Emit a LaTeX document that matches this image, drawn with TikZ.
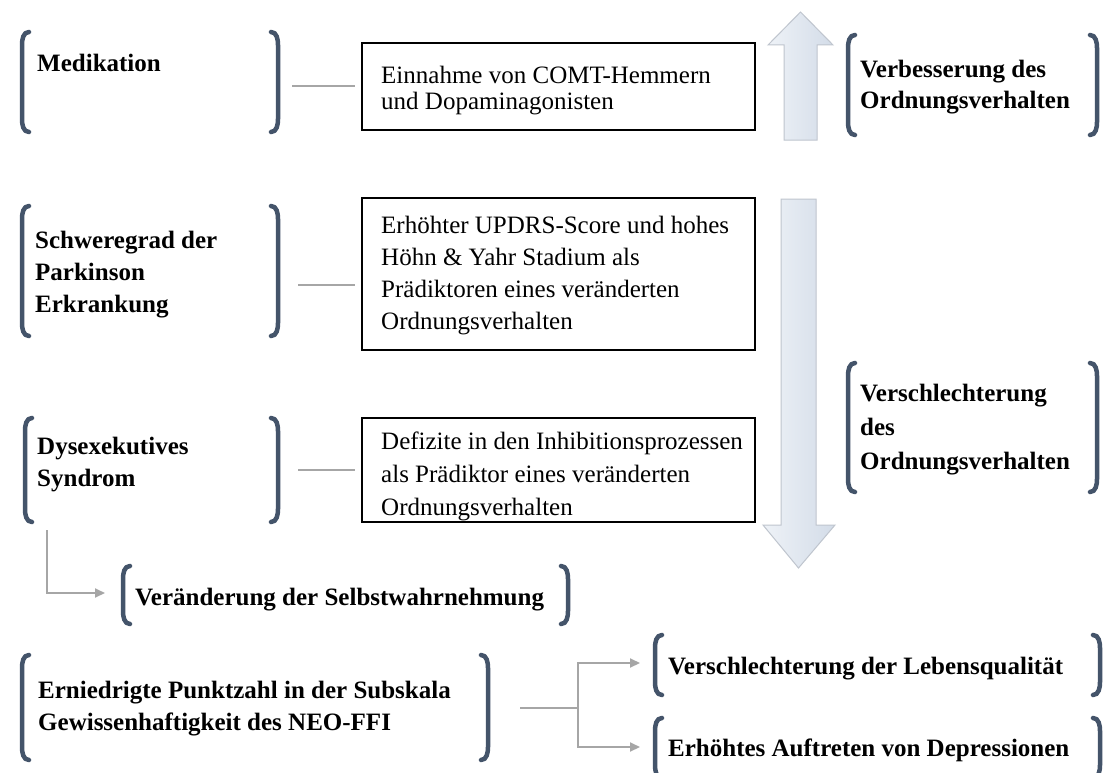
\documentclass[tikz,border=0pt]{standalone}
\usepackage{fontspec}
\setmainfont{Liberation Serif}
\usetikzlibrary{arrows.meta,fit,calc}
\definecolor{bracketcol}{HTML}{44546A}
\definecolor{conncol}{HTML}{A6A6A6}
\definecolor{arrowline}{HTML}{BFC5CE}
\definecolor{arrowL}{HTML}{EEF2F7}
\definecolor{arrowR}{HTML}{D3DCE8}
\tikzset{
 brk/.style={draw=bracketcol, line width=4.5pt, line cap=round},
 grp/.style={inner sep=0pt, outer sep=0pt},
 lbl/.style={anchor=base west, align=left, inner sep=0pt, font=\fontsize{25}{32}\selectfont\bfseries},
 boxtxt/.style={anchor=base west, align=left, inner sep=0pt, font=\fontsize{25}{32}\selectfont},
 txtbox/.style={draw=black, line width=2pt, inner sep=0pt, outer sep=0pt},
 conn/.style={draw=conncol, line width=2pt},
 tipped/.style={-{Triangle[length=10pt,width=9pt]}},
 bigarrow/.style={draw=arrowline, line width=1pt, left color=arrowL, right color=arrowR},
}
\newcommand\drawbrk[1]{%
 \draw[brk] ([xshift=7pt]#1.north west) to[out=180,in=90] ([yshift=-13pt]#1.north west) -- ([yshift=13pt]#1.south west) to[out=270,in=180] ([xshift=7pt]#1.south west);
 \draw[brk] ([xshift=-7pt]#1.north east) to[out=0,in=90] ([yshift=-13pt]#1.north east) -- ([yshift=13pt]#1.south east) to[out=270,in=0] ([xshift=-7pt]#1.south east);}
\begin{document}
\begin{tikzpicture}[x=1pt,y=-1pt]
\useasboundingbox (0,0) rectangle (1105,773);
\fill[white] (0,0) rectangle (1105,773);
\clip (0,0) rectangle (1105,773);

% bracket groups
\node[grp, fit={(22,32) (278,132)}] (med) {};
\node[grp, fit={(22,206) (278,336)}] (sch) {};
\node[grp, fit={(25,418) (278,522)}] (dys) {};
\node[grp, fit={(123,566) (568,624)}] (sel) {};
\node[grp, fit={(22,655) (488,760)}] (ern) {};
\node[grp, fit={(848,35) (1097,135)}] (ver) {};
\node[grp, fit={(848,363) (1097,492)}] (vsc) {};
\node[grp, fit={(655,635) (1100,695)}] (leb) {};
\node[grp, fit={(655,718) (1100,778)}] (dep) {};
\foreach \g in {med,sch,dys,sel,ern,ver,vsc,leb,dep}{\drawbrk{\g}}

% labels (anchored at the baseline of the last line)
\node[lbl] (tmed) at (37,72) {Medikation};
\node[lbl] (tsch) at (35,312) {Schweregrad der\\Parkinson\\Erkrankung};
\node[lbl] (tdys) at (37,486) {Dysexekutives\\Syndrom};
\node[lbl] (tsel) at (135,605) {Veränderung der Selbstwahrnehmung};
\node[lbl] (tern) at (38,730) {Erniedrigte Punktzahl in der Subskala\\Gewissenhaftigkeit des NEO-FFI};
\node[lbl, font=\fontsize{25}{31}\selectfont\bfseries] (tver) at (860,109) {Verbesserung des\\Ordnungsverhalten};
\node[lbl, font=\fontsize{25}{34}\selectfont\bfseries] (tvsc) at (860,469) {Verschlechterung\\des\\Ordnungsverhalten};
\node[lbl] (tleb) at (668,674) {Verschlechterung der Lebensqualität};
\node[lbl] (tdep) at (668,756) {Erhöhtes Auftreten von Depressionen};

% boxes
\node[txtbox, fit={(362,43) (755,130)}] (b1) {};
\node[txtbox, fit={(362,198) (755,350)}] (b2) {};
\node[txtbox, fit={(362,418) (755,522)}] (b3) {};
\node[boxtxt, font=\fontsize{25}{26}\selectfont] (tb1) at (381,110) {Einnahme von COMT-Hemmern\\und Dopaminagonisten};
\node[boxtxt] (tb2) at (381,329) {Erhöhter UPDRS-Score und hohes\\Höhn \& Yahr Stadium als\\Prädiktoren eines veränderten\\Ordnungsverhalten};
\node[boxtxt, font=\fontsize{25}{33}\selectfont] (tb3) at (381,515) {Defizite in den Inhibitionsprozessen\\als Prädiktor eines veränderten\\Ordnungsverhalten};

% big arrows
\path[bigarrow] (784,140) -- (784,45) -- (768,45) -- (800.5,12) -- (833,45) -- (817,45) -- (817,140) -- cycle;
\path[bigarrow] (781,199) -- (816,199) -- (816,525) -- (835,525) -- (798.5,568) -- (763,525) -- (781,525) -- cycle;

% connectors
\draw[conn] ($(med.east |- b1.west)+(14,0)$) -- ($(b1.west)+(-7,0)$);
\draw[conn] ($(sch.east)+(20,14)$) -- ($(b2.west)+(-7,11)$);
\draw[conn] ($(dys.east |- b3.west)+(20,0)$) -- ($(b3.west)+(-7,0)$);
\draw[conn,tipped] ($(dys.south west)+(22,8)$) |- ($(sel.west)+(-18,-2)$);
\coordinate (split) at ($(ern.east)+(90,0)$);
\draw[conn] ($(ern.east)+(32,0)$) -- (split);
\draw[conn,tipped] (split) |- ($(leb.west)+(-15,-2)$);
\draw[conn,tipped] (split) |- ($(dep.west)+(-15,-1)$);
\end{tikzpicture}
\end{document}
